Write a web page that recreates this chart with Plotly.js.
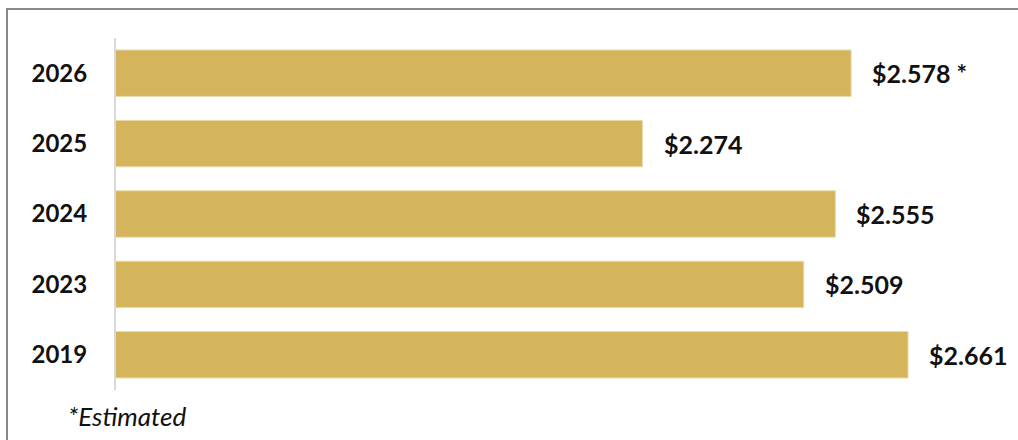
<!DOCTYPE html>
<html>
<head>
<meta charset="utf-8">
<script src="https://cdn.plot.ly/plotly-3.0.1.min.js"></script>
<style>
  html, body { margin: 0; padding: 0; background: #fff; }
  #chart { position: absolute; left: 0; top: 0; width: 1018px; height: 440px; }
  #frame {
    position: absolute; left: 6px; top: 8px; width: 1012px; height: 432px;
    border-left: 2px solid #8a8a8a; border-top: 2px solid #8a8a8a;
    box-sizing: border-box; pointer-events: none;
  }
</style>
</head>
<body>
<div id="chart"></div>
<div id="frame"></div>
<script>
const years = ["2026", "2025", "2024", "2023", "2019"];
const values = [2.578, 2.274, 2.555, 2.509, 2.661];
const valueLabels = ["$2.578 *", "$2.274", "$2.555", "$2.509", "$2.661"];
const footnote = "*Estimated";

const fontFamily = "Lato, 'Open Sans', sans-serif";

// category axes take the serial number of the category for annotations
const labelNotes = years.map((y, i) => ({
  x: values[i],
  y: i,
  xref: "x",
  yref: "y",
  text: "<b>" + valueLabels[i] + "</b>",
  showarrow: false,
  xanchor: "left",
  yanchor: "middle",
  xshift: 19,
  font: { size: 25, color: "#111", family: fontFamily },
}));

const trace = {
  type: "bar",
  orientation: "h",
  x: values,
  y: years,
  marker: { color: "#D4B55B", line: { color: "#eadcaa", width: 1 } },
  hoverinfo: "skip",
};

const layout = {
  width: 1018,
  height: 440,
  margin: { l: 116, r: 18, t: 38, b: 50 },
  paper_bgcolor: "#fff",
  plot_bgcolor: "#fff",
  showlegend: false,
  bargap: 0.34,
  font: { family: fontFamily, color: "#111" },
  xaxis: {
    range: [1.5065, 2.795],
    showgrid: false,
    zeroline: false,
    showticklabels: false,
    showline: false,
  },
  yaxis: {
    type: "category",
    categoryorder: "array",
    categoryarray: years,
    range: [4.5, -0.5],
    showgrid: false,
    showline: true,
    linecolor: "#d9d9d9",
    linewidth: 2,
    ticks: "",
    ticklabelstandoff: 22,
    tickfont: { size: 24, color: "#111", family: fontFamily, weight: "bold" },
  },
  annotations: labelNotes.concat([
    {
      xref: "paper",
      yref: "paper",
      x: -0.056,
      y: -0.074,
      xanchor: "left",
      yanchor: "middle",
      text: "<i>" + footnote + "</i>",
      showarrow: false,
      font: { size: 26, color: "#111", family: fontFamily },
    },
  ]),
};

Plotly.newPlot("chart", [trace], layout, { displayModeBar: false, staticPlot: true });
</script>
</body>
</html>
